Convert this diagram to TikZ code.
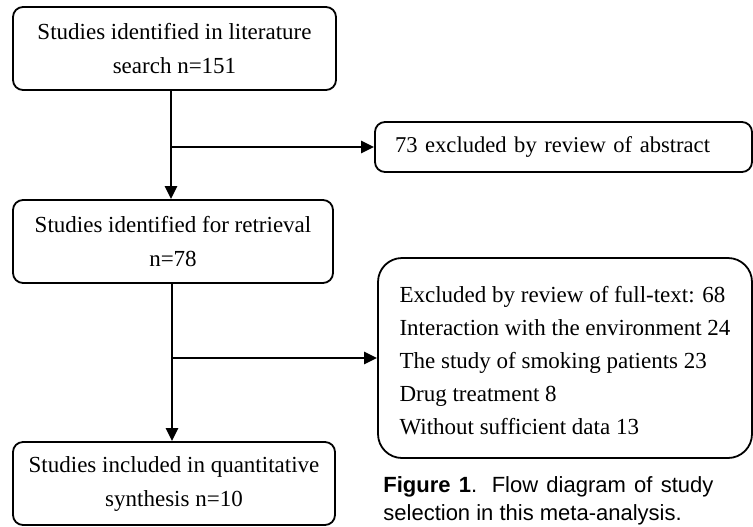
\documentclass[tikz,border=0pt]{standalone}
\usepackage{fontspec}
\setmainfont{Liberation Serif}
\newfontfamily\capfont{Liberation Sans}
\usetikzlibrary{arrows.meta}

\tikzset{
	box/.style={draw, rounded corners=5pt, line width=0.9pt, inner sep=0pt,
		font=\fontsize{11.5}{17}\selectfont, align=center},
	mainbox/.style={box, minimum height=41.5pt, execute at begin node={\rule{0pt}{13pt}}},
	flow/.style={line width=1.4pt, -{Triangle[length=6.5pt,width=6pt]}},
	caption/.style={inner sep=0pt, text width=165pt, align=justify,
		font=\capfont\fontsize{11}{14}\selectfont},
}

\begin{document}
\begin{tikzpicture}[x=0.5pt,y=-0.5pt]
		\useasboundingbox (0,0) rectangle (753,526);

		% Main column
		\node[mainbox, minimum width=161.5pt] (search) at (174.5,48.5) {Studies identified in literature\\search n=151};
		\node[mainbox, minimum width=160pt] (retrieval) at (173,241.5) {Studies identified for retrieval\\n=78};
		\node[mainbox, minimum width=161pt] (included) at (174,483.5) {Studies included in quantitative\\synthesis n=10};

		% Excluded studies
		\node[box, align=left, text width=168.5pt, inner xsep=10pt, minimum height=25pt, font=\fontsize{11.3}{17}\selectfont] (abstract) at (563.5,147) {73 excluded by review of abstract};
		\node[box, rounded corners=12pt, align=left, minimum width=187pt, minimum height=100pt, font=\fontsize{11.5}{16.5}\selectfont] (fulltext) at (565,358)
			{\rule{0pt}{11pt}Excluded by review of full-text: 68\\Interaction with the environment 24\\The study of smoking patients 23\\Drug treatment 8\\Without sufficient data 13};

		% Connectors
		\coordinate (split1) at (171,147);
		\coordinate (split2) at (172,358);
		\draw[flow] (search.south -| split1) -- (retrieval.north -| split1);
		\draw[flow] (split1) -- (abstract.west);
		\draw[flow] (retrieval.south -| split2) -- (included.north -| split2);
		\draw[flow] (split2) -- (fulltext.west);

		% Caption
		\node[caption, anchor=north west] (fig) at (383,476) {\textbf{Figure 1}. Flow diagram of study selection in this meta-analysis.};
	\end{tikzpicture}
\end{document}
